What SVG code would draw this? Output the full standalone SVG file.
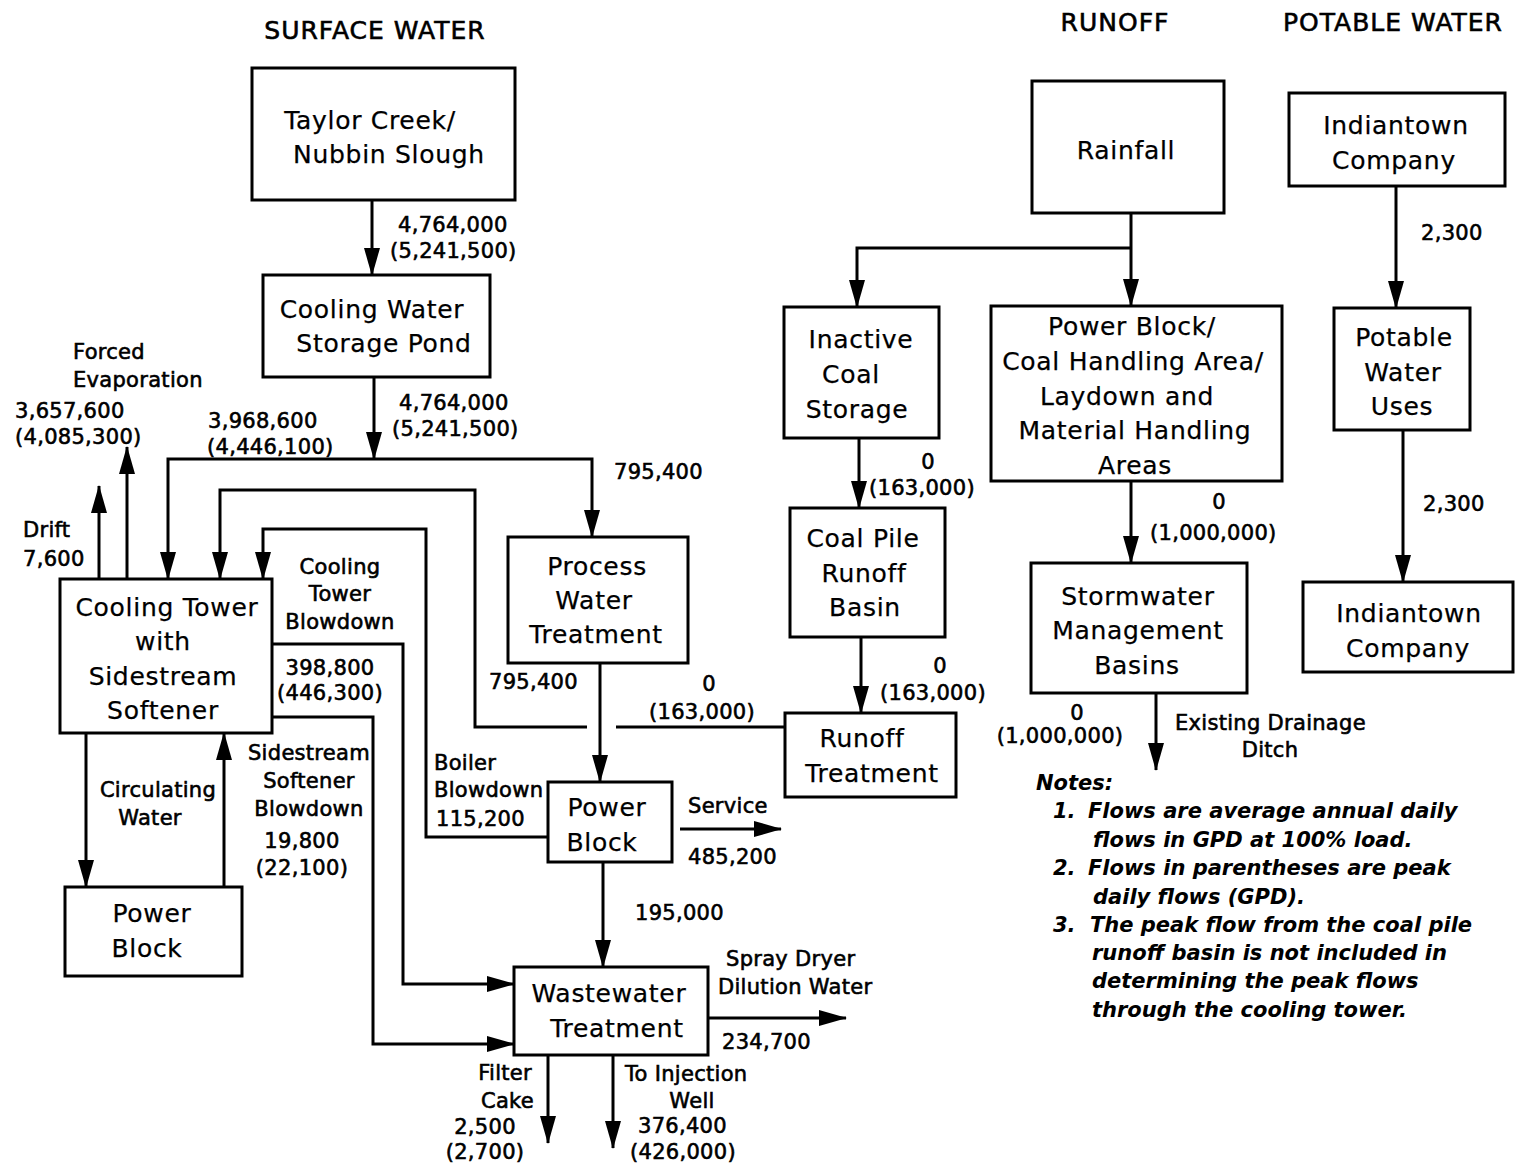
<svg xmlns="http://www.w3.org/2000/svg" width="1518" height="1163" viewBox="0 0 1518 1163">
<style>
text{font-family:"DejaVu Sans","Liberation Sans",sans-serif;fill:#000;dominant-baseline:central}
.t{font-size:25px;stroke:#000;stroke-width:0.6;text-anchor:middle;letter-spacing:1px}
.b{font-size:25px;text-anchor:middle;letter-spacing:0.7px;stroke:#000;stroke-width:0.25}
.l{font-size:21px;stroke:#000;stroke-width:0.6;letter-spacing:0.3px}
.c{text-anchor:middle}
.e{text-anchor:end}
.n{font-size:21px;font-style:italic;font-weight:bold}
.box{fill:#fff;stroke:#000;stroke-width:3}
.ln{fill:none;stroke:#000;stroke-width:3}
.ar{fill:none;stroke:#000;stroke-width:3;marker-end:url(#ah)}
</style>
<defs>
<marker id="ah" markerUnits="userSpaceOnUse" markerWidth="28" markerHeight="16" viewBox="0 0 28 16" refX="27" refY="8" orient="auto">
<path d="M0,0 L28,8 L0,16 z" fill="#000"/>
</marker>
</defs>
<rect width="1518" height="1163" fill="#fff"/>
<g id="titles">
<text class="t" x="375" y="30">SURFACE WATER</text>
<text class="t" x="1115" y="22">RUNOFF</text>
<text class="t" x="1393" y="22">POTABLE WATER</text>
</g>
<g id="connectors">
<path class="ar" d="M372,200 V275"/>
<path class="ar" d="M374,377 V459"/>
<path class="ar" d="M374,459 H168 V579"/>
<path class="ar" d="M374,459 H592 V537"/>
<path class="ln" d="M785,727 H616"/>
<path class="ar" d="M587,727 H475 V490 H220 V579"/>
<path class="ar" d="M548,837 H426 V529 H263 V579"/>
<path class="ar" d="M272,644 H403 V984 H514"/>
<path class="ar" d="M272,717 H373 V1044 H514"/>
<path class="ar" d="M99,579 V486"/>
<path class="ar" d="M127,579 V447"/>
<path class="ar" d="M86,733 V887"/>
<path class="ar" d="M224,887 V733"/>
<path class="ar" d="M600,663 V782"/>
<path class="ar" d="M680,829 H781"/>
<path class="ar" d="M603,862 V967"/>
<path class="ar" d="M708,1018 H846"/>
<path class="ar" d="M548,1055 V1143"/>
<path class="ar" d="M613,1055 V1148"/>
<path class="ar" d="M1131,213 V306"/>
<path class="ar" d="M1131,248 H857 V307"/>
<path class="ar" d="M859,438 V508"/>
<path class="ar" d="M861,637 V713"/>
<path class="ar" d="M1131,481 V563"/>
<path class="ar" d="M1156,693 V770"/>
<path class="ar" d="M1396,186 V308"/>
<path class="ar" d="M1403,430 V582"/>
</g>
<g id="taylor-creek">
<rect class="box" x="252" y="68" width="263" height="132"/>
<text class="b" x="370" y="120">Taylor Creek/</text>
<text class="b" x="389" y="154">Nubbin Slough</text>
</g>
<g id="storage-pond">
<rect class="box" x="263" y="275" width="227" height="102"/>
<text class="b" x="372" y="309">Cooling Water</text>
<text class="b" x="384" y="343">Storage Pond</text>
</g>
<g id="cooling-tower">
<rect class="box" x="60" y="579" width="212" height="154"/>
<text class="b" x="167" y="607">Cooling Tower</text>
<text class="b" x="163" y="641">with</text>
<text class="b" x="163" y="676">Sidestream</text>
<text class="b" x="163" y="710">Softener</text>
</g>
<g id="power-block-left">
<rect class="box" x="65" y="887" width="177" height="89"/>
<text class="b" x="152" y="913">Power</text>
<text class="b" x="147" y="948">Block</text>
</g>
<g id="process-water">
<rect class="box" x="508" y="537" width="180" height="126"/>
<text class="b" x="597" y="566">Process</text>
<text class="b" x="594" y="600">Water</text>
<text class="b" x="596" y="634">Treatment</text>
</g>
<g id="power-block-mid">
<rect class="box" x="548" y="782" width="124" height="80"/>
<text class="b" x="607" y="807">Power</text>
<text class="b" x="602" y="842">Block</text>
</g>
<g id="wastewater">
<rect class="box" x="514" y="967" width="194" height="88"/>
<text class="b" x="609" y="993">Wastewater</text>
<text class="b" x="617" y="1028">Treatment</text>
</g>
<g id="rainfall">
<rect class="box" x="1032" y="81" width="192" height="132"/>
<text class="b" x="1126" y="150">Rainfall</text>
</g>
<g id="inactive-coal">
<rect class="box" x="784" y="307" width="155" height="131"/>
<text class="b" x="861" y="339">Inactive</text>
<text class="b" x="851" y="374">Coal</text>
<text class="b" x="857" y="409">Storage</text>
</g>
<g id="power-block-areas">
<rect class="box" x="991" y="306" width="291" height="175"/>
<text class="b" x="1132" y="326">Power Block/</text>
<text class="b" x="1133" y="361">Coal Handling Area/</text>
<text class="b" x="1127" y="396">Laydown and</text>
<text class="b" x="1135" y="430">Material Handling</text>
<text class="b" x="1135" y="465">Areas</text>
</g>
<g id="coal-pile-basin">
<rect class="box" x="790" y="508" width="155" height="129"/>
<text class="b" x="863" y="538">Coal Pile</text>
<text class="b" x="864" y="573">Runoff</text>
<text class="b" x="865" y="607">Basin</text>
</g>
<g id="runoff-treatment">
<rect class="box" x="785" y="713" width="171" height="84"/>
<text class="b" x="862" y="738">Runoff</text>
<text class="b" x="872" y="773">Treatment</text>
</g>
<g id="stormwater">
<rect class="box" x="1031" y="563" width="216" height="130"/>
<text class="b" x="1138" y="596">Stormwater</text>
<text class="b" x="1138" y="630">Management</text>
<text class="b" x="1137" y="665">Basins</text>
</g>
<g id="indiantown-top">
<rect class="box" x="1289" y="93" width="216" height="93"/>
<text class="b" x="1396" y="125">Indiantown</text>
<text class="b" x="1394" y="160">Company</text>
</g>
<g id="potable-uses">
<rect class="box" x="1334" y="308" width="136" height="122"/>
<text class="b" x="1404" y="337">Potable</text>
<text class="b" x="1403" y="372">Water</text>
<text class="b" x="1402" y="406">Uses</text>
</g>
<g id="indiantown-bottom">
<rect class="box" x="1303" y="582" width="210" height="90"/>
<text class="b" x="1409" y="613">Indiantown</text>
<text class="b" x="1408" y="648">Company</text>
</g>
<g id="labels">
<text class="l" x="398" y="225">4,764,000</text>
<text class="l" x="390" y="251">(5,241,500)</text>
<text class="l" x="73" y="352">Forced</text>
<text class="l" x="73" y="380">Evaporation</text>
<text class="l" x="15" y="411">3,657,600</text>
<text class="l" x="15" y="437">(4,085,300)</text>
<text class="l" x="208" y="421">3,968,600</text>
<text class="l" x="207" y="447">(4,446,100)</text>
<text class="l" x="399" y="403">4,764,000</text>
<text class="l" x="392" y="429">(5,241,500)</text>
<text class="l" x="614" y="472">795,400</text>
<text class="l" x="23" y="530">Drift</text>
<text class="l" x="23" y="559">7,600</text>
<text class="l c" x="340" y="567">Cooling</text>
<text class="l c" x="340" y="594">Tower</text>
<text class="l c" x="340" y="622">Blowdown</text>
<text class="l c" x="330" y="668">398,800</text>
<text class="l c" x="330" y="693">(446,300)</text>
<text class="l" x="489" y="682">795,400</text>
<text class="l c" x="709" y="684">0</text>
<text class="l c" x="702" y="712">(163,000)</text>
<text class="l c" x="158" y="790">Circulating</text>
<text class="l c" x="150" y="818">Water</text>
<text class="l c" x="309" y="753">Sidestream</text>
<text class="l c" x="309" y="781">Softener</text>
<text class="l c" x="309" y="809">Blowdown</text>
<text class="l c" x="302" y="841">19,800</text>
<text class="l c" x="302" y="868">(22,100)</text>
<text class="l" x="434" y="763">Boiler</text>
<text class="l" x="434" y="790">Blowdown</text>
<text class="l" x="436" y="819">115,200</text>
<text class="l" x="688" y="806">Service</text>
<text class="l" x="688" y="857">485,200</text>
<text class="l" x="635" y="913">195,000</text>
<text class="l" x="726" y="959">Spray Dryer</text>
<text class="l" x="718" y="987">Dilution Water</text>
<text class="l" x="722" y="1042">234,700</text>
<text class="l e" x="532" y="1073">Filter</text>
<text class="l e" x="534" y="1101">Cake</text>
<text class="l c" x="485" y="1127">2,500</text>
<text class="l c" x="485" y="1152">(2,700)</text>
<text class="l" x="625" y="1074">To Injection</text>
<text class="l c" x="692" y="1101">Well</text>
<text class="l" x="638" y="1126">376,400</text>
<text class="l" x="630" y="1152">(426,000)</text>
<text class="l c" x="928" y="462">0</text>
<text class="l" x="869" y="488">(163,000)</text>
<text class="l c" x="940" y="666">0</text>
<text class="l" x="880" y="693">(163,000)</text>
<text class="l" x="1421" y="233">2,300</text>
<text class="l" x="1423" y="504">2,300</text>
<text class="l c" x="1219" y="502">0</text>
<text class="l" x="1150" y="533">(1,000,000)</text>
<text class="l c" x="1077" y="713">0</text>
<text class="l c" x="1060" y="736">(1,000,000)</text>
<text class="l" x="1175" y="723">Existing Drainage</text>
<text class="l c" x="1270" y="750">Ditch</text>
</g>
<g id="notes">
<text class="n" x="1036" y="783">Notes:</text>
<text class="n" x="1053" y="811">1.</text>
<text class="n" x="1088" y="811">Flows are average annual daily</text>
<text class="n" x="1093" y="840">flows in GPD at 100% load.</text>
<text class="n" x="1053" y="868">2.</text>
<text class="n" x="1088" y="868">Flows in parentheses are peak</text>
<text class="n" x="1093" y="897">daily flows (GPD).</text>
<text class="n" x="1053" y="925">3.</text>
<text class="n" x="1090" y="925">The peak flow from the coal pile</text>
<text class="n" x="1092" y="953">runoff basin is not included in</text>
<text class="n" x="1092" y="981">determining the peak flows</text>
<text class="n" x="1092" y="1010">through the cooling tower.</text>
</g>
</svg>
